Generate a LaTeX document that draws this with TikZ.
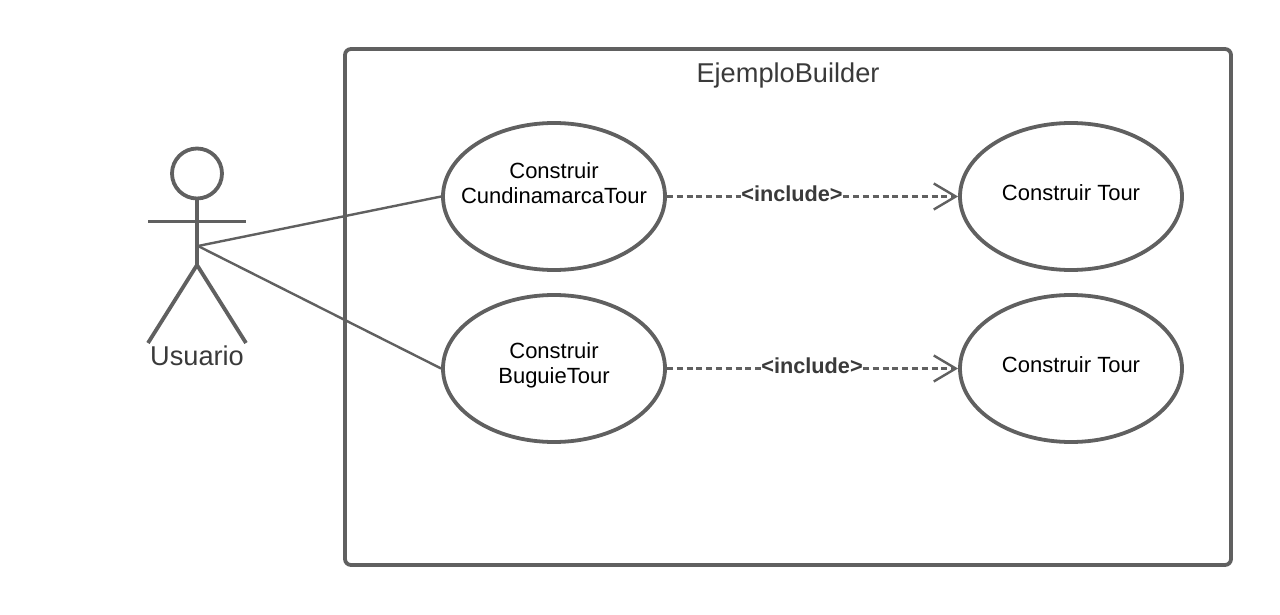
\documentclass[tikz,border=0pt]{standalone}
\usepackage{fontspec}
\setmainfont{Liberation Sans}
\usetikzlibrary{arrows.meta,shapes.geometric}
\definecolor{ln}{HTML}{606060}
\definecolor{tx}{HTML}{3A3A3A}
\tikzset{x=1pt,y=-1pt,
 uc/.style={draw=ln,line width=3.8pt,ellipse,minimum width=222pt,minimum height=147pt,inner sep=0pt},
 uctext/.style={align=center,font=\fontsize{22}{25}\selectfont,text=black},
 stick/.style={draw=ln,line width=3.8pt},
 assoc/.style={draw=ln,line width=2.4pt},
 incl/.style={draw=ln,line width=2.4pt,dash pattern=on 6pt off 3.8pt,-{Straight Barb[length=22pt,width=26pt,line width=2.4pt]}},
 lab/.style={font=\bfseries\fontsize{21.7}{25}\selectfont,text=tx,fill=white,inner sep=0.5pt}
}
\begin{document}
\begin{tikzpicture}
\useasboundingbox (0,0) rectangle (1280,615);
\fill[white] (0,0) rectangle (1280,615);
\node[draw=ln,line width=3.8pt,rounded corners=6pt,minimum width=886pt,minimum height=516pt,inner sep=0pt] (sys) at (788,307) {};
\node[font=\fontsize{27.2}{31}\selectfont,text=tx] (title) at (788,75) {EjemploBuilder};
\node[uc] (a) at (554,196.5) {};
\node[uc] (b) at (554,368.5) {};
\node[uc] (c) at (1071,196.5) {};
\node[uc] (d) at (1071,368.5) {};
\node[uctext] (at) at (554,183.5) {Construir\\CundinamarcaTour};
\node[uctext] (bt) at (554,365) {Construir\\BuguieTour};
\node[uctext] (ct) at (1071,193) {Construir Tour};
\node[uctext] (dt) at (1071,365) {Construir Tour};
\node[stick,circle,minimum size=50pt,inner sep=0pt] (head) at (197,173.5) {};
\coordinate (hip) at (197,265);
\coordinate (neck) at (198,246);
\coordinate (armL) at (148,221.5);
\coordinate (armR) at (246,221.5);
\coordinate (footL) at (148,343);
\coordinate (footR) at (246,343);
\draw[stick] (head.south) -- (hip);
\draw[stick] (armL) -- (armR);
\draw[stick] (footL) -- (hip) -- (footR);
\node[font=\fontsize{27.2}{31}\selectfont,text=tx] (actor) at (197,356) {Usuario};
\draw[assoc] (neck) -- (a.west);
\draw[assoc] (neck) -- (b.west);
\draw[incl] (a.east) -- (c.west);
\draw[incl] (b.east) -- (d.west);
\node[lab] (l1) at (792,194) {<include>};
\node[lab] (l2) at (812,366) {<include>};
\end{tikzpicture}
\end{document}
